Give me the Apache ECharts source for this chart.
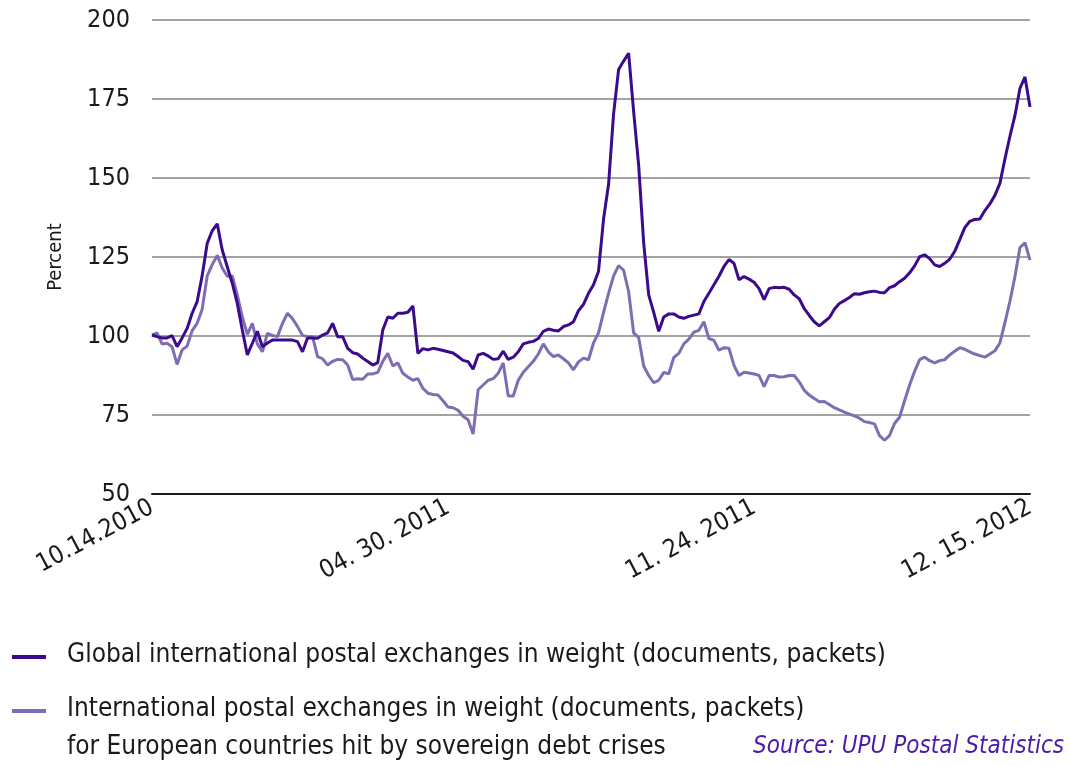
<!DOCTYPE html>
<html>
<head>
<meta charset="utf-8">
<script src="https://cdn.jsdelivr.net/npm/echarts@6/dist/echarts.min.js"></script>
<style>
  html, body { margin: 0; padding: 0; background: #fff; }
  #chart { width: 1070px; height: 766px; }
</style>
</head>
<body>
<div id="chart"></div>
<script>
// x tick labels and the sample index each one sits on
const tickLabels = ["10.14.2010", "04. 30. 2011", "11. 24. 2011", "12. 15. 2012"];
const tickIndex = [0, 59, 120, 175];

// Global international postal exchanges in weight (index, percent)
const globalSeries = [
  100.3, 99.8, 99.4, 99.4, 100.1, 96.6, 99.4, 102.4, 107.2, 110.9,
  119.1, 129.3, 133.3, 135.5, 127.2, 121.9, 116.7, 110.3, 101.9, 94.0,
  97.7, 101.5, 96.6, 97.8, 98.7, 98.7, 98.7, 98.7, 98.7, 98.2,
  95.0, 99.4, 99.4, 99.3, 100.3, 101.0, 104.0, 99.8, 99.8, 96.1,
  94.7, 94.3, 93.0, 91.9, 90.8, 91.6, 101.9, 106.0, 105.6, 107.2,
  107.2, 107.5, 109.5, 94.5, 96.0, 95.6, 96.1, 95.8, 95.4, 95.0,
  94.6, 93.5, 92.3, 91.9, 89.5, 94.0, 94.5, 93.7, 92.6, 92.8,
  95.2, 92.6, 93.3, 95.0, 97.5, 98.0, 98.3, 99.2, 101.5, 102.2,
  101.8, 101.6, 103.0, 103.5, 104.5, 108.0, 110.0, 113.5, 116.2, 120.5,
  137.0, 148.0, 170.3, 184.3, 187.0, 189.5, 171.0, 154.0, 129.5, 113.0,
  107.5, 101.5, 106.0, 107.0, 107.0, 106.0, 105.6, 106.2, 106.6, 107.0,
  110.9, 113.5, 116.2, 118.9, 122.0, 124.2, 123.0, 117.8, 118.8, 118.0,
  117.0, 115.0, 111.5, 115.0, 115.4, 115.3, 115.4, 114.8, 113.0, 111.8,
  108.7, 106.5, 104.5, 103.2, 104.5, 105.8, 108.5, 110.3, 111.2, 112.2,
  113.4, 113.2, 113.7, 114.0, 114.2, 113.8, 113.7, 115.3, 115.9, 117.2,
  118.3, 120.0, 122.2, 125.1, 125.7, 124.5, 122.5, 122.0, 123.0, 124.3,
  126.8, 130.5, 134.3, 136.3, 136.9, 137.0, 139.7, 141.8, 144.5, 148.3,
  156.0, 163.2, 169.8, 178.4, 182.0, 172.5
];

// European countries hit by sovereign debt crises
const europeSeries = [
  100.3, 101.0, 97.5, 97.7, 96.6, 91.0, 95.6, 96.8, 101.7, 104.0,
  108.5, 119.0, 122.6, 125.5, 121.5, 118.9, 119.0, 113.0, 106.0, 100.5,
  104.0, 97.5, 95.0, 100.8, 100.2, 99.8, 104.0, 107.2, 105.5, 103.0,
  100.2, 99.8, 99.8, 93.5, 92.8, 90.8, 92.0, 92.6, 92.5, 90.8,
  86.2, 86.5, 86.3, 88.0, 88.0, 88.5, 92.0, 94.5, 90.5, 91.5,
  88.2, 87.0, 86.0, 86.5, 83.4, 81.9, 81.5, 81.3, 79.5, 77.5,
  77.3, 76.5, 74.6, 73.5, 69.0, 83.0, 84.5, 86.0, 86.5, 88.2,
  91.5, 81.0, 81.0, 86.0, 88.5, 90.3, 92.0, 94.3, 97.5, 95.0,
  93.5, 94.0, 92.8, 91.5, 89.3, 91.8, 93.0, 92.5, 97.8, 101.0,
  107.5, 113.5, 119.0, 122.3, 120.8, 114.0, 101.0, 99.5, 90.5, 87.5,
  85.2, 86.0, 88.5, 88.0, 93.2, 94.5, 97.5, 99.0, 101.2, 101.8,
  104.5, 99.2, 98.6, 95.5, 96.3, 96.1, 90.7, 87.5, 88.5, 88.3,
  88.0, 87.5, 84.0, 87.5, 87.5, 87.0, 87.1, 87.5, 87.5, 85.5,
  82.8, 81.3, 80.2, 79.2, 79.3, 78.3, 77.3, 76.6, 75.9, 75.3,
  74.7, 74.0, 72.9, 72.6, 72.2, 68.5, 67.0, 68.5, 72.3, 74.3,
  79.5, 84.5, 88.8, 92.5, 93.3, 92.2, 91.5, 92.2, 92.5, 94.0,
  95.2, 96.3, 95.8, 95.0, 94.3, 93.8, 93.3, 94.3, 95.3, 97.8,
  104.2, 111.0, 118.8, 128.0, 129.5, 124.0
];

const seriesNames = [
  "Global international postal exchanges in weight (documents, packets)",
  "International postal exchanges in weight (documents, packets)",
  "for European countries hit by sovereign debt crises"
];
const sourceText = "Source: UPU Postal Statistics";

const DARK = "#3c0a8c";
const LIGHT = "#7f6db3";
const FONT = "'DejaVu Sans Condensed', 'Liberation Sans Narrow', sans-serif";

const categories = globalSeries.map((v, i) => {
  const k = tickIndex.indexOf(i);
  return k >= 0 ? tickLabels[k] : String(i);
});

const chart = echarts.init(document.getElementById("chart"), null, { renderer: "canvas" });

const option = {
  animation: false,
  backgroundColor: "#fff",
  textStyle: { fontFamily: FONT },
  grid: { left: 152, right: 40, top: 20, bottom: 272 },
  xAxis: {
    type: "category",
    data: categories,
    boundaryGap: false,
    axisLine: { show: true, lineStyle: { color: "#1a1a1a", width: 2 } },
    axisTick: { show: false },
    splitLine: { show: false },
    axisLabel: {
      interval: (index) => tickIndex.indexOf(index) >= 0,
      rotate: 28,
      margin: 12,
      fontSize: 25,
      color: "#1a1a1a",
      fontFamily: FONT
    }
  },
  yAxis: {
    type: "value",
    min: 50,
    max: 200,
    interval: 25,
    name: "Percent",
    nameLocation: "middle",
    nameRotate: 90,
    nameGap: 86,
    nameTextStyle: { fontSize: 20, color: "#1a1a1a", fontFamily: FONT },
    axisLine: { show: false },
    axisTick: { show: false },
    axisLabel: {
      margin: 22,
      fontSize: 25,
      color: "#1a1a1a",
      fontFamily: FONT,
      showMinLabel: true
    },
    splitLine: {
      show: true,
      lineStyle: { color: "#a3a3a3", width: 2 }
    }
  },
  series: [
    {
      name: seriesNames[1],
      type: "line",
      data: europeSeries,
      showSymbol: false,
      lineStyle: { color: LIGHT, width: 3 },
      itemStyle: { color: LIGHT },
      z: 2
    },
    {
      name: seriesNames[0],
      type: "line",
      data: globalSeries,
      showSymbol: false,
      lineStyle: { color: DARK, width: 3 },
      itemStyle: { color: DARK },
      z: 3
    }
  ],
  graphic: [
    { type: "rect", left: 12, top: 655, shape: { width: 34, height: 4 }, style: { fill: DARK } },
    {
      type: "text", left: 67, top: 642,
      style: { text: seriesNames[0], fontSize: 26, fill: "#1a1a1a", fontFamily: FONT }
    },
    { type: "rect", left: 12, top: 709, shape: { width: 34, height: 4 }, style: { fill: LIGHT } },
    {
      type: "text", left: 67, top: 696,
      style: { text: seriesNames[1], fontSize: 26, fill: "#1a1a1a", fontFamily: FONT }
    },
    {
      type: "text", left: 67, top: 734,
      style: { text: seriesNames[2], fontSize: 26, fill: "#1a1a1a", fontFamily: FONT }
    },
    {
      type: "text", right: 6, top: 735,
      style: { text: sourceText, fontSize: 24, fontStyle: "italic", fill: "#4a1aa8", fontFamily: FONT }
    }
  ]
};

chart.setOption(option);
</script>
</body>
</html>
